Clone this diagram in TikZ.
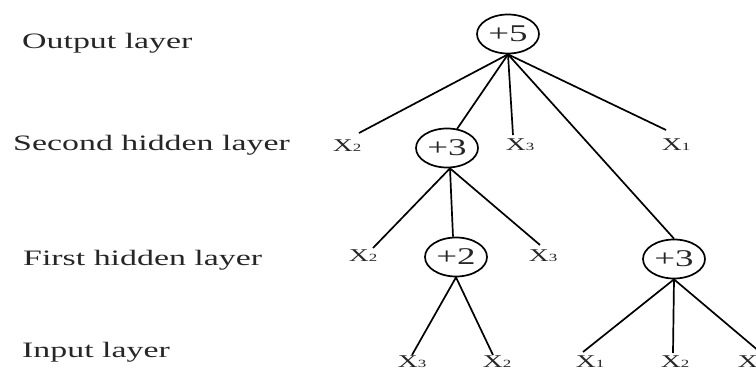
\documentclass[tikz,border=0pt]{standalone}
\usepackage{fontspec}
\setmainfont{Liberation Serif}[FakeStretch=1.54]
\usetikzlibrary{shapes.geometric,calc}
\newcommand\xvar[1]{X{\fontsize{11}{11}\selectfont #1}}
\begin{document}
\begin{tikzpicture}[x=1pt,y=-1pt,
  lay/.style={anchor=west, font=\fontsize{22}{22}\selectfont, text=black!85, inner sep=0},
  var/.style={font=\fontsize{18}{18}\selectfont, text=black!85, inner sep=1pt},
  sum/.style={ellipse, draw, line width=1.7pt, minimum width=62pt, minimum height=39pt, inner sep=0, font=\fontsize{24}{24}\selectfont, text=black!85},
  edge/.style={line width=1.7pt}]
\useasboundingbox (0,0) rectangle (756,370);
\clip (0,0) rectangle (756,370);
% layer labels
\node[lay] (lo) at (22,43) {Output layer};
\node[lay] (ls) at (13,145) {Second hidden layer};
\node[lay] (lf) at (23,260) {First hidden layer};
\node[lay] (li) at (22,352) {Input layer};
% sum nodes
\node[sum] (o5) at (508,34) {+5};
\node[sum] (s3) at (447,148) {+3};
\node[sum] (f2) at (456,257) {+2};
\node[sum] (r3) at (674,259) {+3};
% variable nodes
\node[var] (h2a) at (347,146) {\xvar{2}};
\node[var] (h2c) at (520,145) {\xvar{3}};
\node[var] (h2d) at (676,145) {\xvar{1}};
\node[var] (f2a) at (363,256) {\xvar{2}};
\node[var] (f2c) at (543,256) {\xvar{3}};
\node[var] (i1) at (412,362) {\xvar{3}};
\node[var] (i2) at (497,362) {\xvar{2}};
\node[var] (i3) at (590,362) {\xvar{1}};
\node[var] (i4) at (675,362) {\xvar{2}};
\node[var] (i5) at (752,362) {\xvar{3}};
% edges
\draw[edge] (o5.south) -- ($(h2a)+(12,-13)$);
\draw[edge] (o5.south) -- ($(s3)+(10,-19)$);
\draw[edge] (o5.south) -- ($(h2c)+(-7,-10)$);
\draw[edge] (o5.south) -- (r3.north);
\draw[edge] (o5.south) -- ($(h2d)+(-10,-15)$);
\draw[edge] ($(s3.south)+(3,0)$) -- ($(f2a)+(10,-8)$);
\draw[edge] ($(s3.south)+(3,0)$) -- ($(f2.north)+(-3,0)$);
\draw[edge] ($(s3.south)+(3,0)$) -- ($(f2c)+(-3,-11)$);
\draw[edge] (f2.south) -- ($(i1)+(0,-7)$);
\draw[edge] (f2.south) -- ($(i2)+(-4,-7)$);
\draw[edge] (r3.south) -- ($(i3)+(-7,-10)$);
\draw[edge] (r3.south) -- ($(i4)+(-2,-9)$);
\draw[edge] (r3.south) -- ($(i5)+(8,-10)$);
\end{tikzpicture}
\end{document}
